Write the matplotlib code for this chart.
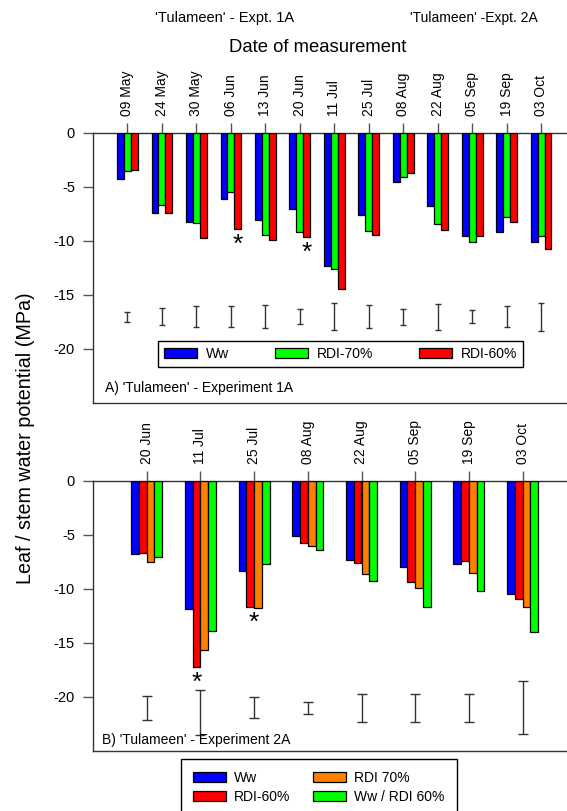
import numpy as np
import matplotlib
matplotlib.use("Agg")
import matplotlib.pyplot as plt
from matplotlib.patches import Patch

plt.rcParams["font.family"] = ["Liberation Sans", "DejaVu Sans"]
plt.rcParams["axes.unicode_minus"] = False

# ---- data: experiment 1A ----
dates_1a = ["09 May", "24 May", "30 May", "06 Jun", "13 Jun", "20 Jun", "11 Jul",
            "25 Jul", "08 Aug", "22 Aug", "05 Sep", "19 Sep", "03 Oct"]
ww_1a = [-4.25, -7.4, -8.2, -6.15, -8.1, -7.0, -12.35, -7.55, -4.5, -6.8, -9.5, -9.2, -10.05]
rdi70_1a = [-3.55, -6.7, -8.3, -5.45, -9.45, -9.2, -12.6, -9.1, -4.05, -8.45, -10.05, -7.75, -9.55]
rdi60_1a = [-3.4, -7.4, -9.7, -8.9, -9.9, -9.6, -14.45, -9.45, -3.75, -9.0, -9.5, -8.25, -10.75]
lsd_1a = [0.46, 0.82, 1.0, 1.0, 1.03, 0.66, 1.26, 1.08, 0.74, 1.2, 0.6, 1.0, 1.3]
lsd_center_1a = -17.0
stars_1a = [(3, [2]), (5, [2])]          # (date index, series index list)

# ---- data: experiment 2A ----
dates_2a = ["20 Jun", "11 Jul", "25 Jul", "08 Aug", "22 Aug", "05 Sep", "19 Sep", "03 Oct"]
ww_2a = [-6.78, -11.84, -8.37, -5.09, -7.27, -7.94, -7.64, -10.43]
rdi60_2a = [-6.63, -17.24, -11.63, -5.74, -7.58, -9.36, -7.45, -10.92]
rdi70_2a = [-7.48, -15.67, -11.72, -6.04, -8.59, -9.9, -8.5, -11.66]
wwrdi60_2a = [-7.06, -13.93, -7.7, -6.35, -9.3, -11.69, -10.18, -13.99]
lsd_2a = [1.1, 2.07, 0.97, 0.55, 1.3, 1.3, 1.3, 2.47]
lsd_center_2a = [-21.0, -21.45, -21.0, -21.0, -21.0, -21.0, -21.0, -21.0]
stars_2a = [(1, [1]), (2, [1, 2])]

yticks = [0, -5, -10, -15, -20]

BLUE, GREEN, RED, ORANGE = "#0000ff", "#00ff00", "#ff0000", "#ff8000"
SPINE = "#333333"


def style_axes(ax, x, labels, xmax):
    ax.set_xlim(0, xmax)
    ax.set_ylim(-25, 0)
    ax.xaxis.tick_top()
    ax.set_xticks(x)
    ax.set_xticklabels(labels, rotation=90, fontsize=10)
    ax.set_yticks(yticks)
    ax.set_yticklabels([str(v) for v in yticks], fontsize=10.5)
    ax.tick_params(axis="x", direction="out", length=7, width=1, color="#555555", pad=5.5)
    ax.tick_params(axis="y", direction="out", length=7, width=1, color="#555555", pad=6)
    for s in ["left", "top", "bottom"]:
        ax.spines[s].set_color(SPINE)
        ax.spines[s].set_linewidth(1.0)
    ax.spines["right"].set_visible(False)


def add_stars(ax, x, offsets, series, stars):
    for gi, sidx in stars:
        xs = np.mean([x[gi] + offsets[k] for k in sidx])
        ys = min(series[k][gi] for k in sidx)
        ax.text(xs, ys - 0.35, "*", ha="center", va="top", fontsize=19)


fig = plt.figure(figsize=(5.67, 8.11), dpi=100)

# ---- panel A ----
ax1 = fig.add_axes([93 / 567, 1 - 403 / 811, 474 / 567, 270 / 811])
x1 = np.arange(1, len(dates_1a) + 1)
w1 = 0.2
series1 = [ww_1a, rdi70_1a, rdi60_1a]
cols1 = [BLUE, GREEN, RED]
offs1 = [-w1, 0, w1]
for vals, c, o in zip(series1, cols1, offs1):
    ax1.bar(x1 + o, vals, width=w1, color=c, edgecolor="black", linewidth=0.9, zorder=3)
ax1.errorbar(x1, [lsd_center_1a] * len(x1), yerr=lsd_1a, fmt="none", ecolor="#333333",
             elinewidth=1, capsize=2.3, capthick=1)
add_stars(ax1, x1, offs1, series1, stars_1a)
style_axes(ax1, x1, dates_1a, 474 / 34.47)
ax1.text(0.025, 0.057, "A) 'Tulameen' - Experiment 1A", transform=ax1.transAxes,
         ha="left", va="center", fontsize=10)
h1 = [Patch(facecolor=c, edgecolor="black", linewidth=0.9) for c in cols1]
leg1 = ax1.legend(h1, ["Ww", "RDI-70%", "RDI-60%"], loc="center", mode="expand",
                  bbox_to_anchor=(0.1365, 0.131, 0.771, 0.102), ncol=3, fontsize=10,
                  fancybox=False, edgecolor="black", framealpha=1, handlelength=2.4,
                  handleheight=0.75, handletextpad=0.6, borderpad=0.45, borderaxespad=0)
leg1.get_frame().set_linewidth(1.0)

# ---- panel B ----
ax2 = fig.add_axes([93 / 567, 1 - 751 / 811, 474 / 567, 270 / 811])
x2 = np.arange(1, len(dates_2a) + 1)
w2 = 0.144
series2 = [ww_2a, rdi60_2a, rdi70_2a, wwrdi60_2a]
cols2 = [BLUE, RED, ORANGE, GREEN]
offs2 = [-1.5 * w2, -0.5 * w2, 0.5 * w2, 1.5 * w2]
for vals, c, o in zip(series2, cols2, offs2):
    ax2.bar(x2 + o, vals, width=w2, color=c, edgecolor="black", linewidth=0.9, zorder=3)
ax2.errorbar(x2, lsd_center_2a, yerr=lsd_2a, fmt="none", ecolor="#333333",
             elinewidth=1, capsize=3.6, capthick=1)
add_stars(ax2, x2, offs2, series2, stars_2a)
style_axes(ax2, x2, dates_2a, 474 / 53.7)
ax2.text(0.018, 0.041, "B) 'Tulameen' - Experiment 2A", transform=ax2.transAxes,
         ha="left", va="center", fontsize=10)

h2 = [Patch(facecolor=c, edgecolor="black", linewidth=0.9) for c in cols2]
leg2 = fig.legend(h2, ["Ww", "RDI-60%", "RDI 70%", "Ww / RDI 60%"], loc="upper center",
                  bbox_to_anchor=(0.562, 1 - 759 / 811), ncol=2, fontsize=10, fancybox=False,
                  edgecolor="black", framealpha=1, handlelength=2.4, handleheight=0.75,
                  handletextpad=0.6, columnspacing=1.6, labelspacing=0.35, borderpad=0.85,
                  borderaxespad=0)
leg2.get_frame().set_linewidth(1.0)

# ---- headers ----
fig.text(225 / 567, 1 - 18 / 811, "'Tulameen' - Expt. 1A", ha="center", va="center", fontsize=10.5)
fig.text(474 / 567, 1 - 18 / 811, "'Tulameen' -Expt. 2A", ha="center", va="center", fontsize=10)
fig.text(318 / 567, 1 - 47 / 811, "Date of measurement", ha="center", va="center", fontsize=13.3)
fig.text(26 / 567, 1 - 438 / 811, "Leaf / stem water potential (MPa)", rotation=90,
         ha="center", va="center", fontsize=14.2)

fig.savefig("out.png", dpi=100)
